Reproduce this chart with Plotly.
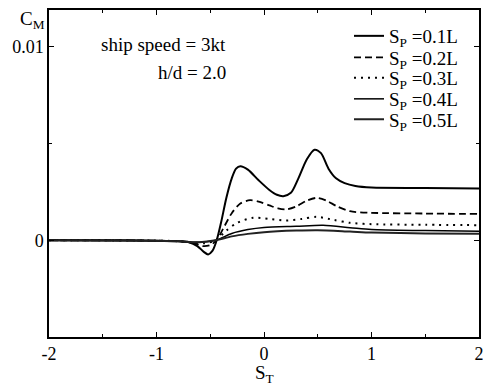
import plotly.graph_objects as go

# S_P = 0.1L
x1 = [-2, -1.5, -1, -0.8, -0.7, -0.62, -0.56, -0.52, -0.48, -0.44, -0.4, -0.35, -0.3, -0.26, -0.22,
      -0.15, -0.05, 0.05, 0.12, 0.18, 0.25, 0.32, 0.4, 0.47, 0.53, 0.6, 0.67, 0.75, 0.85, 1.0, 1.5, 2.0]
y1 = [0, 0, -0.02, -0.05, -0.1, -0.3, -0.6, -0.73, -0.55, 0, 0.9, 2.2, 3.2, 3.7, 3.83,
      3.65, 3.1, 2.6, 2.35, 2.28, 2.45, 3.2, 4.2, 4.68, 4.5, 3.7, 3.2, 2.95, 2.8, 2.72, 2.7, 2.67]
# S_P = 0.2L
x2 = [-2, -1, -0.8, -0.65, -0.57, -0.5, -0.44, -0.38, -0.3, -0.22, -0.13, -0.05, 0.05, 0.13, 0.21,
      0.3, 0.4, 0.49, 0.58, 0.68, 0.8, 1.0, 1.5, 2.0]
y2 = [0, -0.02, -0.05, -0.15, -0.3, -0.25, 0, 0.6, 1.4, 1.9, 2.07, 2.0, 1.8, 1.65, 1.6,
      1.75, 2.05, 2.19, 2.05, 1.75, 1.5, 1.42, 1.38, 1.36]
# S_P = 0.3L
x3 = [-2, -1, -0.8, -0.65, -0.55, -0.45, -0.35, -0.25, -0.1, 0.05, 0.2, 0.35, 0.49, 0.65, 0.8, 1.0, 1.5, 2.0]
y3 = [0, -0.02, -0.05, -0.12, -0.15, 0, 0.5, 0.9, 1.16, 1.1, 1.02, 1.1, 1.21, 1.05, 0.9, 0.83, 0.8, 0.78]
# S_P = 0.4L
x4 = [-2, -1, -0.8, -0.6, -0.45, -0.3, -0.15, 0, 0.3, 0.55, 0.8, 1.0, 1.5, 2.0]
y4 = [0, -0.02, -0.05, -0.1, 0.0, 0.35, 0.55, 0.66, 0.72, 0.77, 0.65, 0.55, 0.5, 0.47]
# S_P = 0.5L
x5 = [-2, -1, -0.8, -0.6, -0.45, -0.3, -0.15, 0, 0.3, 0.5, 0.8, 1.0, 1.5, 2.0]
y5 = [0, -0.02, -0.05, -0.1, 0.0, 0.2, 0.33, 0.42, 0.5, 0.52, 0.45, 0.4, 0.35, 0.33]

names = ["S<sub>P</sub> =0.1L", "S<sub>P</sub> =0.2L", "S<sub>P</sub> =0.3L",
         "S<sub>P</sub> =0.4L", "S<sub>P</sub> =0.5L"]
x_tickvals = [-2, -1, 0, 1, 2]
x_ticktext = ["-2", "-1", "0", "1", "2"]
y_tickvals = [0, 0.01]
y_ticktext = ["0", "0.01"]

xs = [x1, x2, x3, x4, x5]
ys = [y1, y2, y3, y4, y5]
styles = [dict(width=2, dash="solid", color="black"),
          dict(width=1.8, dash="7px,4px", color="black"),
          dict(width=2, dash="2px,5px", color="black"),
          dict(width=1.5, dash="solid", color="black"),
          dict(width=2, dash="solid", color="#222")]
legend_ids = ["legend", "legend2", "legend3", "legend4", "legend5"]
legend_py = [36, 57.5, 78, 99, 119.5]   # page pixel centres of legend rows

PL, PT = 49, 10          # plot area left/top on the page
PW, PH = 430, 327        # plot area size
FONT = "Liberation Serif, Times New Roman, serif"


def px_x(p):
    return (p - PL) / PW


def px_y(p):
    return 1 - (p - PT) / PH


fig = go.Figure()
for x, y, n, s, lid in zip(xs, ys, names, styles, legend_ids):
    fig.add_trace(go.Scatter(x=x, y=[v * 1e-3 for v in y], mode="lines", name=n, legend=lid,
                             line=dict(shape="spline", smoothing=0.8, **s)))

axis_common = dict(showline=True, linecolor="black", linewidth=1.5, mirror="allticks",
                   ticks="inside", ticklen=5, tickcolor="black", tickwidth=1,
                   showgrid=False, zeroline=False, automargin=False,
                   ticklabeloverflow="allow",
                   tickfont=dict(family=FONT, size=18, color="black"))
fig.update_xaxes(range=[-2, 2], tickmode="array", tickvals=x_tickvals, ticktext=x_ticktext,
                 minor=dict(dtick=0.5, tick0=0, ticklen=3, ticks="inside", tickcolor="black"),
                 **axis_common)
fig.update_yaxes(range=[-0.005, 0.0119], tickmode="array", tickvals=y_tickvals, ticktext=y_ticktext,
                 minor=dict(dtick=0.005, tick0=0, ticklen=3, ticks="inside", tickcolor="black"),
                 **axis_common)

fig.add_annotation(x=px_x(47), y=px_y(20), xref="paper", yref="paper", xanchor="right", yanchor="middle",
                   text="C<sub>M</sub>", showarrow=False,
                   font=dict(family=FONT, size=19, color="black"))
fig.add_annotation(x=0.5, y=px_y(374), xref="paper", yref="paper", xanchor="center", yanchor="middle",
                   text="S<sub>T</sub>", showarrow=False,
                   font=dict(family=FONT, size=19, color="black"))
fig.add_annotation(x=px_x(228), y=px_y(45), xref="paper", yref="paper",
                   xanchor="right", yanchor="middle", text="ship speed = 3kt", showarrow=False,
                   font=dict(family=FONT, size=19, color="black"))
fig.add_annotation(x=px_x(228), y=px_y(72), xref="paper", yref="paper",
                   xanchor="right", yanchor="middle", text="h/d = 2.0", showarrow=False,
                   font=dict(family=FONT, size=19, color="black"))

layout_legends = {}
for lid, ly in zip(legend_ids, legend_py):
    layout_legends[lid] = dict(x=px_x(349), y=px_y(ly), xanchor="left", yanchor="middle",
                               bgcolor="rgba(0,0,0,0)", itemwidth=30,
                               font=dict(family=FONT, size=19, color="black"))

fig.update_layout(width=484, height=385,
                  margin=dict(l=PL, r=484 - PL - PW, t=PT, b=385 - PT - PH),
                  plot_bgcolor="white", paper_bgcolor="white",
                  showlegend=True,
                  font=dict(family=FONT, color="black"),
                  **layout_legends)
fig.write_html("out.html", config={"displayModeBar": False},
               post_script="document.body.style.margin='0';document.body.style.overflow='hidden';")
